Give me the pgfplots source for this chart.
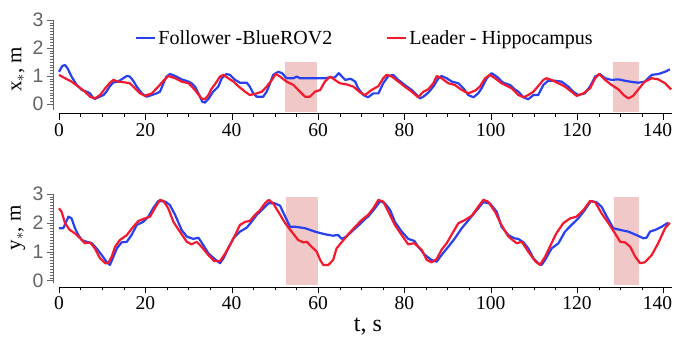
\documentclass[border=0pt]{standalone}
\usepackage{pgfplots}
\pgfplotsset{compat=1.18}
\usepackage{fontspec}
\setmainfont{Liberation Serif}
\setsansfont{Liberation Sans}
\definecolor{fblue}{RGB}{40,65,240}
\definecolor{lred}{RGB}{245,25,45}
\definecolor{shade}{RGB}{240,200,200}
\definecolor{axgray}{RGB}{100,100,100}

\pgfplotsset{
 mystyle/.style={
  scale only axis, width=613pt, height=89.6pt,
  xmin=0, xmax=142,
  axis lines=left, axis line style={-},
  axis x line shift=4pt, axis y line shift=6pt,
  xtick={0,20,...,140}, minor x tick num=3,
  xticklabels={0,20,40,60,80,100,120,\makebox[0pt]{\hspace{-12pt}140}},
  ytick={0,1,2,3}, minor y tick num=9,
  tick align=outside,
  major tick length=6pt, minor tick length=3pt,
  y axis line style={axgray}, y tick style={axgray},
  x tick style={black},
  /pgf/number format/assume math mode=true,
  xticklabel style={font=\fontsize{19.5}{22}\selectfont},
  yticklabel style={font=\sffamily\fontsize{19.5}{21}\selectfont, text=axgray},
  label style={font=\fontsize{21}{23}\selectfont},
  clip=false,
  every axis plot/.append style={line width=2.2pt, line join=round},
 }
}

\pgfplotstableread{
t x
0 1.15
0.77 1.36
1.4 1.39
2.0 1.27
2.9 0.98
4.1 0.68
5.3 0.50
6.4 0.44
7.2 0.38
7.7 0.26
8.3 0.18
9.1 0.24
10.3 0.32
11.0 0.44
11.8 0.64
12.6 0.77
13.7 0.80
14.9 0.92
15.7 1.00
16.4 0.98
17.2 0.83
18.0 0.62
19.2 0.38
20.3 0.26
21.5 0.32
22.6 0.38
23.4 0.44
24.2 0.74
24.9 0.98
25.7 1.07
26.9 1.00
28.4 0.88
30.0 0.80
30.7 0.74
31.5 0.62
32.3 0.38
33.2 0.08
33.8 0.05
34.7 0.20
35.7 0.44
36.9 0.62
37.7 0.92
38.8 1.07
39.6 1.04
40.8 0.86
41.9 0.76
43.5 0.76
44.2 0.62
45.0 0.38
45.8 0.26
47.3 0.26
48.1 0.44
48.9 0.74
49.6 1.04
50.8 1.15
51.7 1.10
52.7 0.92
54.3 0.92
55.1 0.98
55.8 0.92
58.5 0.92
61.6 0.92
62.8 0.95
63.9 0.95
64.8 1.10
66.3 0.86
67.6 0.90
68.6 0.80
69.3 0.56
70.5 0.32
71.6 0.24
72.8 0.38
74.0 0.38
75.1 0.74
76.3 1.00
77.4 1.04
78.6 0.86
80.1 0.68
81.7 0.50
82.9 0.32
83.6 0.20
84.4 0.26
85.5 0.40
86.7 0.62
87.9 0.92
88.6 1.00
89.8 0.92
91.0 0.80
92.5 0.74
93.7 0.56
94.8 0.32
96.0 0.24
97.1 0.38
97.9 0.56
99.1 0.92
100.2 1.10
101.4 0.98
102.9 0.76
104.5 0.68
105.6 0.52
106.4 0.44
107.6 0.24
108.7 0.17
109.9 0.32
111.0 0.32
112.2 0.68
113.3 0.83
114.9 0.83
116.4 0.80
118.0 0.62
119.1 0.44
120.3 0.32
121.8 0.38
123.0 0.62
124.2 0.98
125.3 1.07
126.5 0.92
128.0 0.86
129.6 0.88
131.1 0.83
132.6 0.79
134.2 0.76
135.7 0.80
137.3 1.04
138.8 1.07
140.4 1.15
141.5 1.24
}\folx

\pgfplotstableread{
t x
0 1.04
1.4 0.92
2.9 0.80
4.5 0.62
6.0 0.44
7.2 0.26
8.3 0.20
9.5 0.32
10.7 0.56
11.8 0.76
12.6 0.86
13.7 0.80
15.3 0.77
16.4 0.74
17.6 0.56
18.8 0.38
19.9 0.29
21.5 0.38
23.0 0.62
24.2 0.83
25.3 1.00
26.9 0.92
28.4 0.80
30.0 0.74
31.5 0.50
33.0 0.20
33.8 0.17
34.6 0.32
35.4 0.56
36.1 0.70
37.3 0.98
38.1 1.04
39.2 0.92
40.4 0.80
41.5 0.64
43.1 0.44
44.2 0.32
45.8 0.38
47.0 0.44
48.1 0.62
49.3 0.86
50.2 1.07
51.2 0.98
52.7 0.80
54.3 0.68
55.8 0.44
57.0 0.26
58.1 0.26
59.3 0.44
60.5 0.50
61.6 0.80
62.8 0.98
63.9 0.86
65.1 0.74
66.6 0.70
68.2 0.62
69.7 0.42
70.9 0.32
72.4 0.50
74.0 0.64
75.1 0.92
75.9 1.04
77.1 0.98
78.6 0.80
80.1 0.62
81.7 0.44
83.2 0.24
84.4 0.44
85.5 0.52
86.7 0.74
87.5 1.00
88.6 0.92
90.2 0.74
91.7 0.68
93.3 0.50
94.8 0.38
96.4 0.48
97.5 0.62
98.7 0.92
99.8 1.04
101.0 0.92
102.5 0.74
104.1 0.62
104.9 0.56
106.4 0.32
107.6 0.24
108.7 0.32
109.9 0.44
111.0 0.64
112.2 0.86
112.9 0.92
114.1 0.86
115.7 0.74
117.2 0.62
118.7 0.44
119.9 0.29
121.5 0.38
123.0 0.56
124.2 0.92
125.1 1.07
126.5 0.86
128.0 0.68
129.6 0.52
130.8 0.32
131.9 0.20
133.0 0.29
134.2 0.52
135.7 0.80
137.3 0.92
138.8 0.88
140.4 0.74
141.8 0.52
}\leadx

\pgfplotstableread{
t y
0 1.81
1.0 1.81
2.2 2.21
2.9 2.15
3.7 1.81
4.5 1.57
5.3 1.40
6.4 1.34
7.6 1.29
8.7 1.11
9.9 0.88
11.0 0.65
11.8 0.54
12.6 0.82
13.4 1.11
14.5 1.32
15.7 1.34
16.8 1.57
18.0 1.92
19.5 2.03
20.7 2.21
21.8 2.50
23.0 2.75
24.6 2.73
25.7 2.61
26.9 2.27
28.4 1.75
29.6 1.52
31.1 1.44
32.3 1.48
33.4 1.23
34.6 0.94
36.1 0.74
37.3 0.60
38.1 0.77
39.2 1.11
40.4 1.46
41.9 1.69
43.5 1.83
44.6 2.03
45.8 2.27
47.0 2.44
48.5 2.67
50.0 2.67
51.2 2.59
52.4 2.21
53.5 1.86
54.7 1.86
57.0 1.81
59.3 1.69
61.6 1.60
63.5 1.55
64.6 1.58
65.5 1.44
66.6 1.52
68.2 1.75
69.7 1.95
70.9 2.13
71.6 2.21
73.2 2.50
74.4 2.75
75.5 2.67
76.7 2.44
77.8 2.03
79.4 1.69
80.9 1.44
82.3 1.37
83.2 1.17
84.8 0.88
86.3 0.71
87.5 0.65
88.6 0.88
90.2 1.17
91.7 1.46
93.3 1.81
95.2 2.15
96.8 2.44
98.3 2.71
99.8 2.67
101.4 2.38
102.5 1.86
104.1 1.57
105.5 1.46
106.4 1.44
107.6 1.32
108.7 1.11
109.9 0.77
111.0 0.60
111.8 0.54
112.6 0.71
114.1 1.11
115.7 1.29
117.2 1.69
118.7 1.92
120.3 2.15
121.8 2.44
123.2 2.75
124.5 2.71
125.7 2.55
126.9 2.21
128.4 1.81
130.0 1.75
131.9 1.69
133.8 1.57
135.4 1.46
136.1 1.48
136.9 1.69
138.1 1.75
139.6 1.86
141.1 2.00
}\foly

\pgfplotstableread{
t y
0 2.50
0.6 2.38
1.4 1.98
2.5 1.75
3.7 1.63
4.9 1.46
6.0 1.29
7.2 1.32
8.3 1.11
9.5 0.77
10.7 0.60
11.4 0.60
12.2 0.82
13.0 1.17
14.1 1.40
15.7 1.57
17.2 1.86
18.4 2.06
19.9 2.15
21.1 2.21
22.2 2.50
23.4 2.79
24.2 2.75
25.3 2.50
26.5 2.03
28.0 1.69
29.6 1.34
30.7 1.25
31.9 1.34
33.0 1.17
34.6 0.88
36.0 0.67
37.3 0.67
38.5 0.94
39.6 1.23
40.8 1.57
41.9 1.92
43.1 2.03
44.2 2.06
45.4 2.27
46.6 2.44
47.7 2.67
48.6 2.79
49.6 2.67
50.8 2.38
52.4 1.98
53.9 1.69
55.4 1.40
56.6 1.32
57.4 1.34
58.5 1.17
59.7 1.00
60.5 0.71
61.2 0.54
62.4 0.54
63.5 0.71
64.3 1.11
65.9 1.40
67.0 1.60
68.6 1.86
70.1 2.09
71.6 2.27
72.8 2.50
74.0 2.79
75.1 2.73
76.3 2.38
77.8 1.92
79.4 1.57
80.9 1.25
82.3 1.29
84.0 1.06
85.2 0.71
86.3 0.63
87.5 0.74
88.6 1.06
89.8 1.29
91.0 1.60
92.5 1.98
94.0 2.09
95.6 2.24
97.1 2.55
98.3 2.79
99.4 2.73
101.0 2.38
102.5 1.92
104.1 1.52
106.0 1.29
107.2 1.34
108.7 1.00
110.3 0.67
111.4 0.54
112.6 0.82
113.7 1.17
115.2 1.63
116.8 1.98
118.4 2.15
119.9 2.21
121.5 2.44
123.0 2.75
124.2 2.71
125.7 2.32
127.3 1.98
128.8 1.63
130.0 1.34
131.1 1.32
132.3 1.17
133.5 0.82
134.6 0.60
135.7 0.63
137.3 0.88
138.8 1.29
140.4 1.81
141.5 2.00
}\leady

\begin{document}
\begin{tikzpicture}
\path[use as bounding box] (0pt,0pt) rectangle (676pt,337pt);

\begin{axis}[mystyle,
  at={(59pt,227.4pt)}, anchor=south west,
  ymin=-0.2, ymax=3,
  ylabel={x$_*$, m},
  ylabel style={at={(axis description cs:-0.067,0.45)}, anchor=center},
  legend columns=2,
  legend style={draw=none, fill=none, inner sep=0pt,
    at={(0.124,0.80)}, anchor=west,
    font=\fontsize{20}{22}\selectfont,
    /tikz/every even column/.append style={column sep=52pt}},
  legend image code/.code={\draw[#1] (0pt,0pt) -- (19pt,0pt);},
]
\addplot[fill=shade, draw=none, forget plot] coordinates {(52.3,-0.29) (59.8,-0.29) (59.8,1.5) (52.3,1.5)} -- cycle;
\addplot[fill=shade, draw=none, forget plot] coordinates {(128.4,-0.29) (134.4,-0.29) (134.4,1.5) (128.4,1.5)} -- cycle;
\addplot[fblue] table[x=t,y=x] {\folx};
\addlegendentry{Follower -BlueROV2}
\addplot[lred] table[x=t,y=x] {\leadx};
\addlegendentry{Leader - Hippocampus}
\end{axis}

\begin{axis}[mystyle,
  at={(59pt,53.6pt)}, anchor=south west,
  ymin=-0.1, ymax=3,
  ylabel={y$_*$, m},
  ylabel style={at={(axis description cs:-0.067,0.62)}, anchor=center},
  xlabel={t, s},
  xlabel style={at={(axis description cs:0.504,-0.487)}, anchor=center, font=\fontsize{24}{26}\selectfont},
]
\addplot[fill=shade, draw=none, forget plot] coordinates {(52.5,-0.15) (60.0,-0.15) (60.0,2.88) (52.5,2.88)} -- cycle;
\addplot[fill=shade, draw=none, forget plot] coordinates {(128.5,-0.15) (134.4,-0.15) (134.4,2.88) (128.5,2.88)} -- cycle;
\addplot[fblue] table[x=t,y=y] {\foly};
\addplot[lred] table[x=t,y=y] {\leady};
\end{axis}
\end{tikzpicture}
\end{document}
